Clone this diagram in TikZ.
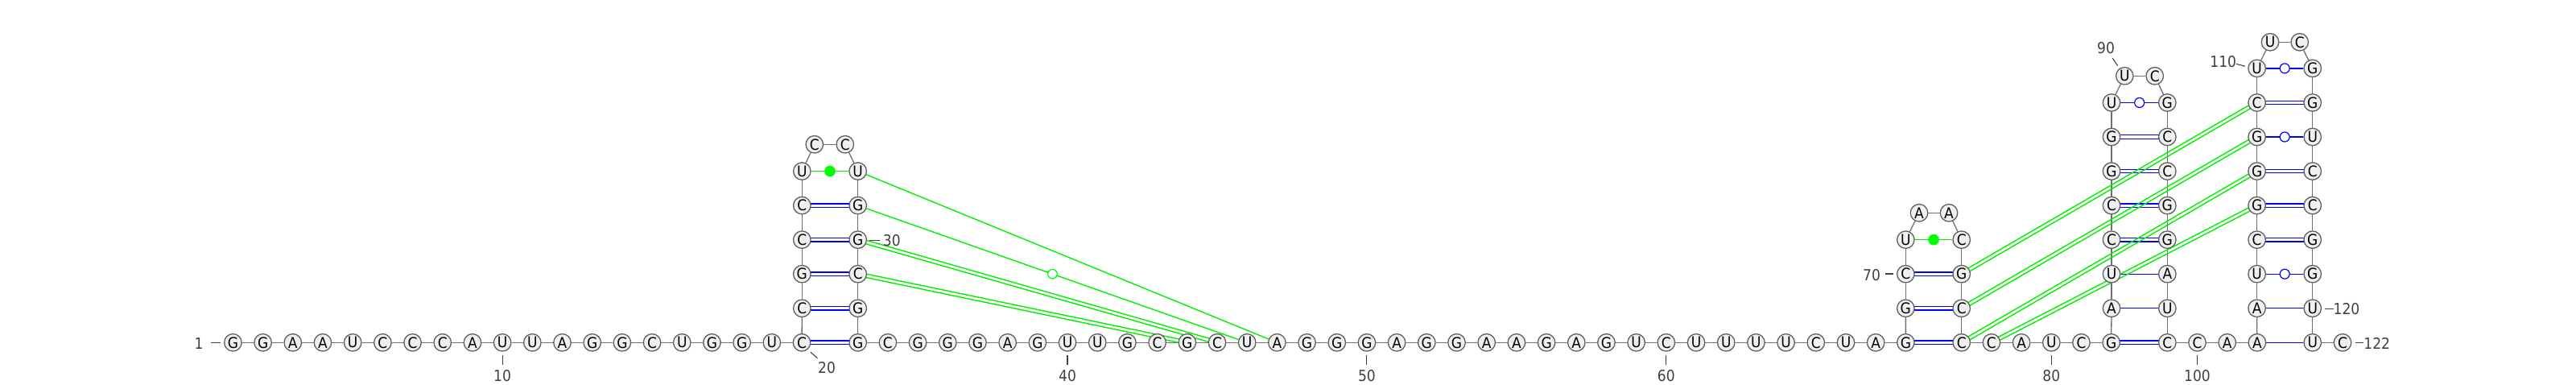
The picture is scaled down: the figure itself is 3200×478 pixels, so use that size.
\documentclass[tikz,border=0pt]{standalone}
\usepackage{fontspec}
\setmainfont{Liberation Sans}
\newfontfamily\ntfont[FakeStretch=0.92]{DejaVu Sans}
\newfontfamily\lblfont[FakeStretch=0.9]{DejaVu Sans}
\usetikzlibrary{calc,backgrounds}
\definecolor{ntfill}{HTML}{F0F0F0}
\definecolor{ntline}{HTML}{606060}
\definecolor{bbline}{HTML}{707070}
\definecolor{lblcol}{HTML}{404040}
\definecolor{pairblue}{HTML}{0000FF}
\definecolor{pairgreen}{HTML}{00F000}
\definecolor{dotgreenfill}{HTML}{00FF00}
\tikzset{
  nt/.style={circle,draw=ntline,fill=ntfill,line width=1.3pt,minimum size=21.5pt,inner sep=0pt,font=\ntfont\fontsize{18.5}{18.5}\selectfont,text=black},
  backbone/.style={draw=bbline,line width=1.3pt},
  bluepair/.style={draw=pairblue,line width=1.3pt},
  greenpair/.style={draw=pairgreen,line width=1.4pt},
  tickmark/.style={draw=lblcol,line width=1.1pt},
  numlabel/.style={inner sep=0pt,text=lblcol,font=\lblfont\fontsize{19}{19}\selectfont},
  dotfull/.style={circle,fill=dotgreenfill,draw=dotgreenfill,line width=1.2pt,minimum size=12.5pt,inner sep=0pt},
  dotgreen/.style={circle,fill=white,draw=dotgreenfill,line width=1.2pt,minimum size=11.5pt,inner sep=0pt},
  dotblue/.style={circle,fill=white,draw=pairblue,line width=1.2pt,minimum size=12pt,inner sep=0pt},
}
\newcommand{\twolines}[3]{\draw[#1] ($(#2)!2.2pt!90:(#3)$) -- ($(#3)!2.2pt!-90:(#2)$);
  \draw[#1] ($(#2)!2.2pt!-90:(#3)$) -- ($(#3)!2.2pt!90:(#2)$);}
\newcommand{\wobble}[4]{\draw[#1] (#3) -- (#4); \node[#2] at ($(#3)!0.5!(#4)$) {};}
\newcommand{\numtick}[8]{\coordinate (ta#1) at (#2,#3); \coordinate (tb#1) at (#4,#5);
  \draw[tickmark] (ta#1) -- (tb#1); \node[numlabel] (lb#1) at (#6,#7) {#8};}
\begin{document}
\begin{tikzpicture}[x=1pt,y=-1pt]
\useasboundingbox (0,0) rectangle (3200,478);
% baseline segments
\foreach \i/\b in {1/G,2/G,3/A,4/A,5/U,6/C,7/C,8/C,9/A,10/U,11/U,12/A,13/G,14/G,15/C,16/U,17/G,18/G,19/U,20/C}
  {\pgfmathsetmacro\xx{289.4+(\i-1)*37.19}\node[nt] (n\i) at (\xx,425.3) {\b};}
\foreach \i/\b in {33/G,34/C,35/G,36/G,37/G,38/A,39/G,40/U,41/U,42/G,43/C,44/G,45/C,46/U,47/A,48/G,49/G,50/G,51/A,52/G,53/G,54/A,55/A,56/G,57/A,58/G,59/U,60/C,61/U,62/U,63/U,64/U,65/C,66/U,67/A,68/G}
  {\pgfmathsetmacro\xx{1065.7+(\i-33)*37.19}\node[nt] (n\i) at (\xx,425.3) {\b};}
\foreach \i/\b in {77/C,78/C,79/A,80/U,81/C,82/G}
  {\pgfmathsetmacro\xx{2436.7+(\i-77)*37.19}\node[nt] (n\i) at (\xx,425.3) {\b};}
\foreach \i/\b in {99/C,100/C,101/A,102/A}
  {\pgfmathsetmacro\xx{2692.3+(\i-99)*37.19}\node[nt] (n\i) at (\xx,425.3) {\b};}
\node[nt] (n121) at (2872.7,425.3) {U};
\node[nt] (n122) at (2910,425.3) {C};
% stem 1
\foreach \i/\b/\k in {21/C/1,22/G/2,23/C/3,24/C/4,25/U/5}
  {\pgfmathsetmacro\yy{425.3-42.55*\k}\node[nt] (n\i) at (996.3,\yy) {\b};}
\node[nt] (n26) at (1011.8,179.3) {C};
\node[nt] (n27) at (1049.8,179.3) {C};
\foreach \i/\b/\k in {28/U/5,29/G/4,30/G/3,31/C/2,32/G/1}
  {\pgfmathsetmacro\yy{425.3-42.55*\k}\node[nt] (n\i) at (1065.7,\yy) {\b};}
% stem 2
\foreach \i/\b/\k in {69/G/1,70/C/2,71/U/3}
  {\pgfmathsetmacro\yy{425.3-42.55*\k}\node[nt] (n\i) at (2367.3,\yy) {\b};}
\node[nt] (n72) at (2384,264.3) {A};
\node[nt] (n73) at (2421,264.3) {A};
\foreach \i/\b/\k in {74/C/3,75/G/2,76/C/1}
  {\pgfmathsetmacro\yy{425.3-42.55*\k}\node[nt] (n\i) at (2436.7,\yy) {\b};}
% stem 3
\foreach \i/\b/\k in {83/A/1,84/U/2,85/C/3,86/C/4,87/G/5,88/G/6,89/U/7}
  {\pgfmathsetmacro\yy{425.3-42.55*\k}\node[nt] (n\i) at (2623,\yy) {\b};}
\node[nt] (n90) at (2639.3,94.3) {U};
\node[nt] (n91) at (2676.7,94.3) {C};
\foreach \i/\b/\k in {92/G/7,93/C/6,94/C/5,95/G/4,96/G/3,97/A/2,98/U/1}
  {\pgfmathsetmacro\yy{425.3-42.55*\k}\node[nt] (n\i) at (2692.3,\yy) {\b};}
% stem 4
\foreach \i/\b/\k in {103/A/1,104/U/2,105/C/3,106/G/4,107/G/5,108/G/6,109/C/7,110/U/8}
  {\pgfmathsetmacro\yy{425.3-42.55*\k}\node[nt] (n\i) at (2803.6,\yy) {\b};}
\node[nt] (n111) at (2820,52.3) {U};
\node[nt] (n112) at (2856.7,52.3) {C};
\foreach \i/\b/\k in {113/G/8,114/G/7,115/U/6,116/C/5,117/C/4,118/G/3,119/G/2,120/U/1}
  {\pgfmathsetmacro\yy{425.3-42.55*\k}\node[nt] (n\i) at (2872.7,\yy) {\b};}
% numbering
\numtick{1}{262}{425.3}{273.5}{425.3}{247}{426.7}{1}
\numtick{10}{624.1}{440.7}{624.1}{452.7}{624.1}{467}{10}
\numtick{20}{1007}{437.3}{1015.5}{444.7}{1027}{456.7}{20}
\numtick{30}{1080.4}{298.7}{1092.6}{298.7}{1107.8}{299}{30}
\numtick{40}{1326}{440.7}{1326}{452.7}{1326}{467}{40}
\numtick{50}{1697.9}{440.7}{1697.9}{452.7}{1697.9}{467}{50}
\numtick{60}{2069.8}{440.7}{2069.8}{452.7}{2069.8}{467}{60}
\numtick{70}{2341.7}{340}{2351.7}{340}{2325}{341.7}{70}
\numtick{80}{2548.3}{440.7}{2548.3}{452.7}{2548.3}{467}{80}
\numtick{90}{2624.3}{72.3}{2630.7}{81.7}{2616}{60}{90}
\numtick{100}{2729.5}{440.7}{2729.5}{452.7}{2729.5}{467}{100}
\numtick{110}{2777.7}{79.3}{2789}{82.3}{2761.7}{77}{110}
\numtick{120}{2888.3}{383.3}{2899}{383.3}{2915}{384}{120}
\numtick{122}{2926}{425.7}{2936}{425.7}{2952.7}{426.7}{122}
\begin{pgfonlayer}{background}
% backbone
\foreach \i [evaluate=\i as \j using int(\i+1)] in {1,...,121} {\draw[backbone] (n\i) -- (n\j);}
% canonical pairs, two lines
\foreach \a/\b in {20/33,21/32,22/31,23/30,24/29,68/77,69/76,70/75,82/99,85/96,86/95,87/94,88/93,105/118,106/117,107/116,109/114}
  {\twolines{bluepair}{n\a}{n\b}}
% pairs, one line
\foreach \a/\b in {83/98,84/97,102/121,103/120}
  {\draw[bluepair] (n\a) -- (n\b);}
% wobble pairs
\foreach \a/\b in {89/92,104/119,108/115,110/113}
  {\wobble{bluepair}{dotblue}{n\a}{n\b}}
\wobble{greenpair}{dotfull}{n25}{n28}
\wobble{greenpair}{dotfull}{n71}{n74}
% tertiary pairs
\draw[greenpair] (n28) -- (n47);
\wobble{greenpair}{dotgreen}{n29}{n46}
\twolines{greenpair}{n30}{n45}
\twolines{greenpair}{n31}{n44}
\twolines{greenpair}{n75}{n109}
\twolines{greenpair}{n76}{n108}
\twolines{greenpair}{n77}{n107}
\twolines{greenpair}{n78}{n106}
\end{pgfonlayer}
\end{tikzpicture}
\end{document}
